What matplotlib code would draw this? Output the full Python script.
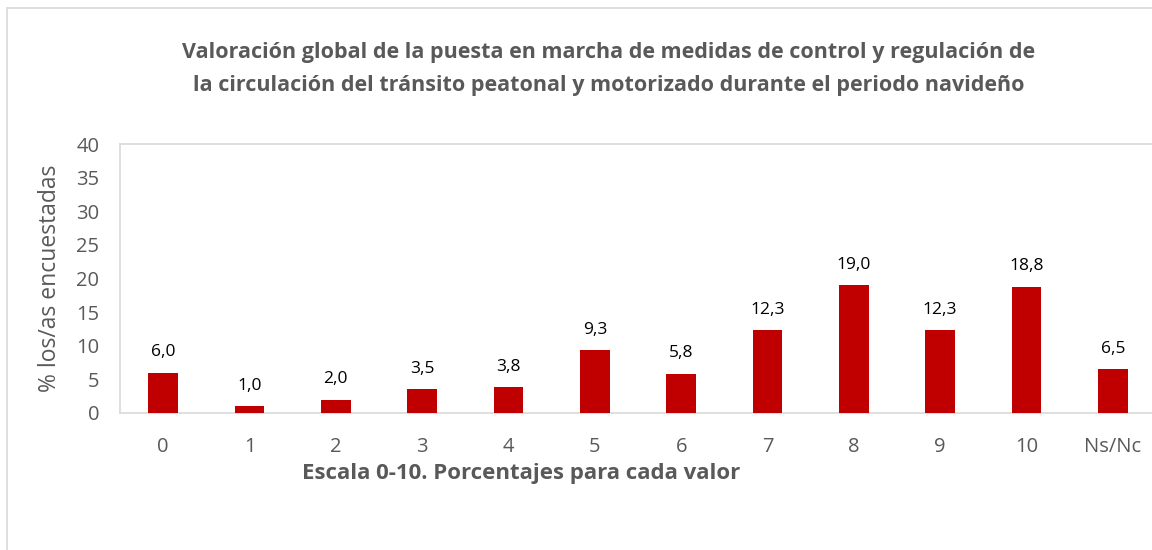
import matplotlib
matplotlib.use("Agg")
import matplotlib.pyplot as plt
from matplotlib.patches import Rectangle

categories = ["0", "1", "2", "3", "4", "5", "6", "7", "8", "9", "10", "Ns/Nc"]
values = [6.0, 1.0, 2.0, 3.5, 3.8, 9.3, 5.8, 12.3, 19.0, 12.3, 18.8, 6.5]
yticks = [0, 5, 10, 15, 20, 25, 30, 35, 40]
title = ("Valoración global de la puesta en marcha de medidas de control y regulación de\n"
         "la circulación del tránsito peatonal y motorizado durante el periodo navideño")
xlabel = "Escala 0-10. Porcentajes para cada valor"
ylabel = "% los/as encuestadas"

plt.rcParams['font.family'] = ['Open Sans', 'DejaVu Sans']
W, H = 1152, 550
fig = plt.figure(figsize=(W / 100, H / 100), dpi=100)
gray = "#595959"

# outer chart border
fig.patches.append(Rectangle((7 / W, -0.2), 1.2, 1.2 - 8 / H, transform=fig.transFigure,
                             fill=False, edgecolor="#D9D9D9", linewidth=1.2))

left, right, top, bottom = 120, 1156, 144, 413
ax = fig.add_axes([left / W, 1 - bottom / H, (right - left) / W, (bottom - top) / H])
x = list(range(len(categories)))
bars = ax.bar(x, values, width=0.34, color="#C00000", zorder=3)
for xi, v in zip(x, values):
    ax.annotate(f"{v:.1f}".replace(".", ","), (xi, v), xytext=(0, 9),
                textcoords="offset points", ha="center", va="bottom",
                fontsize=12.5, color="#000000")

ax.set_xlim(-0.5, len(categories) - 0.5)
ax.set_ylim(0, 40)
ax.set_yticks(yticks)
ax.set_xticks(x)
ax.set_xticklabels(categories)
ax.tick_params(axis="both", length=0, labelsize=14.5, colors=gray)
ax.tick_params(axis="x", pad=17)
ax.tick_params(axis="y", pad=15)
for s in ax.spines.values():
    s.set_color("#D9D9D9")
    s.set_linewidth(1.2)

fig.text(609 / W, 1 - 69 / H, title, ha="center", va="center", fontsize=15.5,
         fontweight="bold", color=gray, linespacing=1.75)
fig.text(521 / W, 1 - 474 / H, xlabel, ha="center", va="center", fontsize=16,
         fontweight="bold", color=gray)
fig.text(50 / W, 1 - 278 / H, ylabel, ha="center", va="center", fontsize=16.5,
         rotation=90, color=gray)

fig.savefig("out.png", dpi=100)
